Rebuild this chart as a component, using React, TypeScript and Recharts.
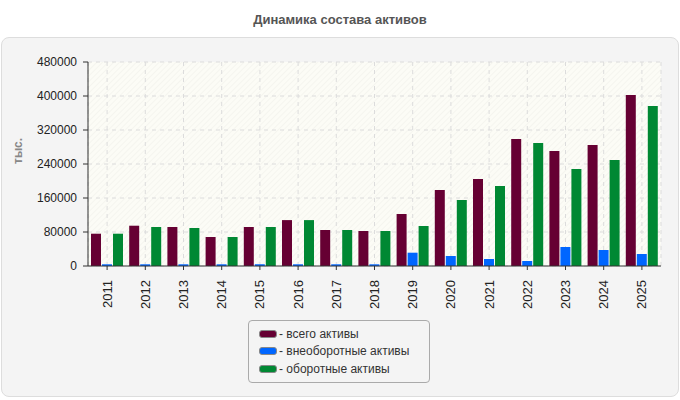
import React from 'react';
import {
  BarChart,
  Bar,
  XAxis,
  YAxis,
  CartesianGrid,
} from 'recharts';

const years = ['2011', '2012', '2013', '2014', '2015', '2016', '2017', '2018', '2019', '2020', '2021', '2022', '2023', '2024', '2025'];
const totalAssets = [76000, 94800, 91800, 68200, 91800, 108000, 84700, 82400, 122400, 178800, 204700, 298800, 270600, 284700, 402400];
const fixedAssets = [4000, 4000, 4000, 4000, 4000, 4000, 4000, 4000, 31300, 23500, 16500, 11800, 44700, 37600, 28200];
const currentAssets = [76000, 91800, 89400, 68200, 91800, 108000, 84700, 82400, 94100, 155300, 188200, 289400, 228200, 249400, 376500];
const yTicks = [0, 80000, 160000, 240000, 320000, 400000, 480000];

const seriesNames = ['всего активы', 'внеоборотные активы', 'оборотные активы'];
const seriesColors = ['#660033', '#0066ff', '#008833'];

const chartData = years.map((year, i) => ({
  year,
  total: totalAssets[i],
  fixed: fixedAssets[i],
  current: currentAssets[i],
}));

const font = '"Liberation Sans", Arial, sans-serif';

// vertical year labels under the axis
const YearTick = ({ x, y, payload }: any) => (
  <text
    transform={`translate(${x},${y + 8}) rotate(-90)`}
    textAnchor="end"
    dy="0.35em"
    fontSize={13}
    fill="#222"
    fontFamily={font}
  >
    {payload.value}
  </text>
);

const App: React.FC = () => {
  return (
    <div style={{ position: 'absolute', left: 0, top: 0, width: 680, height: 400, fontFamily: font }}>
      <div
        style={{
          position: 'absolute',
          top: 12,
          left: 0,
          width: 680,
          textAlign: 'center',
          fontSize: 13,
          fontWeight: 'bold',
          color: '#555',
        }}
      >
        Динамика состава активов
      </div>
      <div
        style={{
          position: 'absolute',
          left: 1,
          top: 37,
          width: 676,
          height: 358,
          border: '1px solid #ddd',
          borderRadius: 8,
          background: '#f4f4f4',
        }}
      />
      <div style={{ position: 'absolute', left: 0, top: 0 }}>
        <BarChart
          width={680}
          height={400}
          data={chartData}
          margin={{ top: 62, right: 19, bottom: 89, left: 13 }}
          barSize={10}
          barGap={1}
        >
          <defs>
            <pattern id="hatch" patternUnits="userSpaceOnUse" width="4" height="4" patternTransform="rotate(45)">
              <rect width="4" height="4" fill="#fcfcf6" />
              <line x1="0" y1="0" x2="0" y2="4" stroke="#efefe8" strokeWidth="1" />
            </pattern>
          </defs>
          <CartesianGrid fill="url(#hatch)" stroke="#dcdcdc" strokeDasharray="4 4" />
          <XAxis
            dataKey="year"
            tick={<YearTick />}
            tickSize={4}
            height={45}
            axisLine={{ stroke: '#333' }}
            tickLine={{ stroke: '#333' }}
            interval={0}
          />
          <YAxis
            width={75}
            domain={[0, 480000]}
            ticks={yTicks}
            tickSize={5}
            tickMargin={6}
            tick={{ fill: '#222', fontSize: 12, fontFamily: font }}
            axisLine={{ stroke: '#333' }}
            tickLine={{ stroke: '#333' }}
            label={{
              value: 'тыс.',
              angle: -90,
              position: 'insideLeft',
              offset: 5,
              fill: '#888',
              fontSize: 12,
              fontWeight: 'bold',
              fontFamily: font,
            }}
          />
          <YAxis
            yAxisId="r"
            orientation="right"
            width={0}
            tick={false}
            tickLine={false}
            axisLine={{ stroke: '#d8d8d8' }}
          />
          <Bar dataKey="total" fill={seriesColors[0]} isAnimationActive={false} />
          <Bar dataKey="fixed" fill={seriesColors[1]} isAnimationActive={false} />
          <Bar dataKey="current" fill={seriesColors[2]} isAnimationActive={false} />
        </BarChart>
      </div>
      <div
        style={{
          position: 'absolute',
          left: 248,
          top: 320,
          width: 180,
          height: 61,
          border: '1px solid #aaa',
          borderRadius: 4,
          boxSizing: 'content-box',
        }}
      >
        {seriesNames.map((name, i) => (
          <div
            key={name}
            style={{
              position: 'absolute',
              left: 10,
              top: 4 + i * 17.5,
              height: 17,
              display: 'flex',
              alignItems: 'center',
              fontSize: 12,
              color: '#333',
              whiteSpace: 'nowrap',
            }}
          >
            <span
              style={{
                display: 'inline-block',
                width: 18,
                height: 8,
                borderRadius: 3,
                background: seriesColors[i],
                border: '1px solid #888',
                boxSizing: 'border-box',
                marginRight: 2,
              }}
            />
            - {name}
          </div>
        ))}
      </div>
    </div>
  );
};

export default App;
